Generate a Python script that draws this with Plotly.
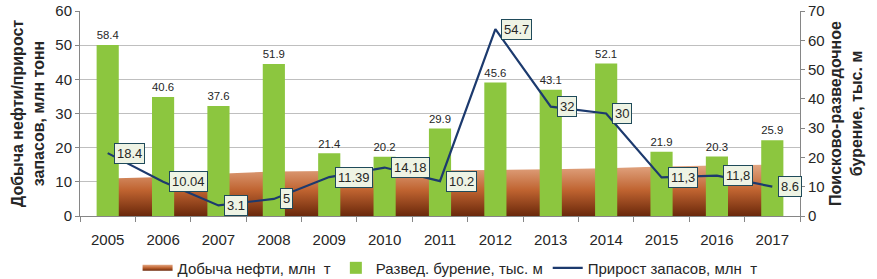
import plotly.graph_objects as go

years = [2005, 2006, 2007, 2008, 2009, 2010, 2011, 2012, 2013, 2014, 2015, 2016, 2017]
oil_production = [11.0, 11.4, 12.4, 13.0, 13.2, 13.3, 13.4, 13.5, 13.7, 14.0, 14.5, 14.8, 15.0]
drilling = [58.4, 40.6, 37.6, 51.9, 21.4, 20.2, 29.9, 45.6, 43.1, 52.1, 21.9, 20.3, 25.9]
drilling_labels = ["58.4", "40.6", "37.6", "51.9", "21.4", "20.2", "29.9",
                   "45.6", "43.1", "52.1", "21.9", "20.3", "25.9"]
reserves = [18.4, 10.04, 3.1, 5, 11.39, 14.18, 10.2, 54.7, 32, 30, 11.3, 11.8, 8.6]
reserves_labels = ["18.4", "10.04", "3.1", "5", "11.39", "14,18", "10.2",
                   "54.7", "32", "30", "11,3", "11,8", "8.6"]

FONT = "Liberation Sans, Arial"
TXT = "#262626"

fig = go.Figure()

fig.add_trace(go.Scatter(
    x=years, y=oil_production, name="Добыча нефти, млн  т",
    mode="none", fill="tozeroy",
    fillcolor="#b8602c",
    fillgradient=dict(type="vertical",
                      colorscale=[[0, "#6a280b"], [0.5, "#bf6330"], [1, "#e2a683"]]),
    xaxis="x", yaxis="y",
))

fig.add_trace(go.Bar(
    x=years, y=drilling, name="Развед. бурение, тыс. м",
    marker=dict(color="#8cc63f", line=dict(width=0)),
    width=0.4,
    text=drilling_labels, textposition="outside",
    textfont=dict(family=FONT, size=12.5, color=TXT),
    cliponaxis=False,
    xaxis="x", yaxis="y2",
))

fig.add_trace(go.Scatter(
    x=years, y=reserves, name="Прирост запасов, млн  т",
    mode="lines", line=dict(color="#1c3a6e", width=2.2),
    xaxis="x", yaxis="y3",
))

for yr, v, lab in zip(years, reserves, reserves_labels):
    fig.add_annotation(
        x=yr, y=v, xref="x", yref="y3", text=lab, showarrow=False,
        xanchor="left", yanchor="middle", xshift=6,
        bgcolor="#eef3e4", bordercolor="#1f4a5a", borderwidth=1, borderpad=2,
        font=dict(family=FONT, size=13, color=TXT),
    )

fig.update_layout(
    width=877, height=279,
    margin=dict(l=80, r=77, t=11, b=63, autoexpand=False),
    paper_bgcolor="white", plot_bgcolor="white",
    font=dict(family=FONT, size=13, color=TXT),
    showlegend=True,
    legend=dict(orientation="h", x=0.514, xanchor="center", y=-0.254, yanchor="middle",
                font=dict(family=FONT, size=15, color=TXT), traceorder="normal"),
    xaxis=dict(range=[2004.5, 2017.5], tickmode="linear", tick0=2005, dtick=1,
               ticks="", showline=True, linecolor="#868686", ticklabelstandoff=10,
               showgrid=False, zeroline=False, tickfont=dict(size=15, color=TXT),
               minor=dict(tickmode="linear", tick0=2004.5, dtick=1, ticks="outside",
                          ticklen=5, tickcolor="#868686", showgrid=False)),
    yaxis=dict(range=[0, 60], dtick=10, showgrid=True, gridcolor="#bfbfbf",
               showline=True, linecolor="#868686", ticks="outside", ticklen=4,
               tickcolor="#868686", zeroline=False, anchor="x",
               tickfont=dict(size=15, color=TXT),
               title=dict(text="Добыча нефти/прирост<br>запасов, млн тонн",
                          font=dict(family=FONT, size=16, color=TXT, weight="bold"),
                          standoff=6)),
    yaxis2=dict(range=[0, 70], dtick=10, overlaying="y", side="right", anchor="x",
                showgrid=False, showline=True, linecolor="#868686", ticks="outside",
                ticklen=4, tickcolor="#868686", zeroline=False,
                tickfont=dict(size=15, color=TXT),
                title=dict(text="Поисково-разведочное<br>бурение, тыс. м",
                           font=dict(family=FONT, size=16, color=TXT, weight="bold"),
                           standoff=6)),
    yaxis3=dict(range=[0, 60], overlaying="y", anchor="x", visible=False),
)

fig.write_html("out.html",
               config={"displayModeBar": False},
               post_script="document.body.style.margin='0';document.body.style.overflow='hidden';")
